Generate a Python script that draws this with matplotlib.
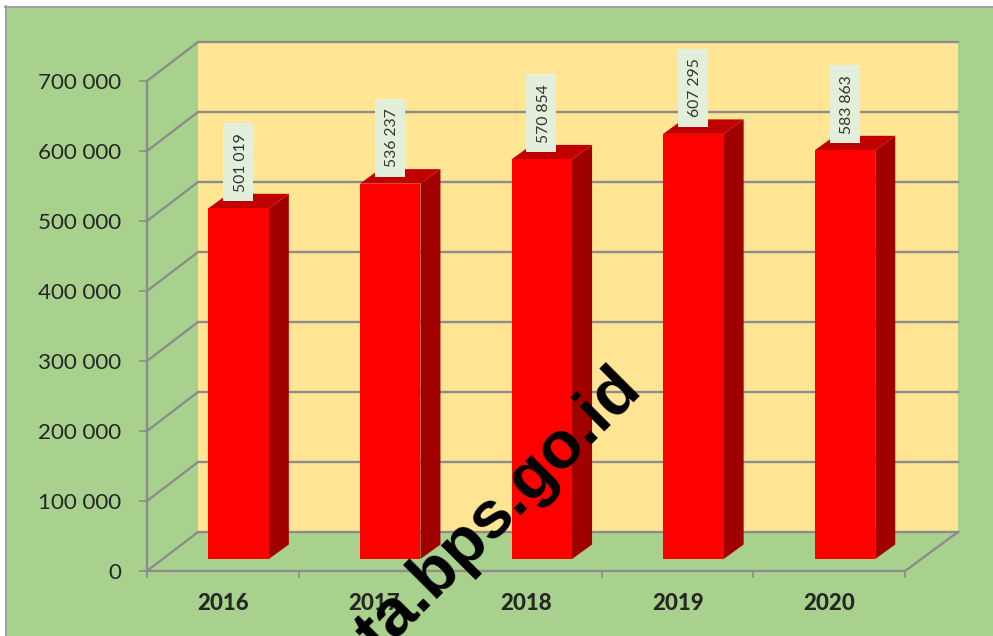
import matplotlib
matplotlib.use("Agg")
import matplotlib.pyplot as plt
from matplotlib.patches import Polygon, Rectangle
from matplotlib.lines import Line2D

years = ["2016", "2017", "2018", "2019", "2020"]
values = [501019, 536237, 570854, 607295, 583863]
labels = ["501 019", "536 237", "570 854", "607 295", "583 863"]
y_ticks = [0, 100000, 200000, 300000, 400000, 500000, 600000, 700000]
y_tick_labels = ["0", "100 000", "200 000", "300 000", "400 000", "500 000", "600 000", "700 000"]

W, H = 993, 636
BG = "#A9D18E"; WALL = "#FFE594"; GRID = "#8C8C8C"; TXT = "#262626"
plt.rcParams["font.family"] = ["Lato", "DejaVu Sans"]

fig = plt.figure(figsize=(W/100, H/100), dpi=100, facecolor="white")
# chart area: white margin at top and left, grey hairline on those two sides
fig.add_artist(Rectangle((5.5/W, 0), 1, 1-6.5/H, transform=fig.transFigure, fc=BG, ec="none", zorder=-5))
fig.add_artist(Line2D([5.5/W, 5.5/W], [0, 1-6/H], transform=fig.transFigure, color="#A0A0A0", lw=1.4, zorder=-4))
fig.add_artist(Line2D([5/W, 1], [1-6.5/H, 1-6.5/H], transform=fig.transFigure, color="#A0A0A0", lw=1.4, zorder=-4))

ax = fig.add_axes([147/W, 1-571/H, (905-147)/W, (571-81)/H])
ax.set_xlim(0, 5); ax.set_ylim(0, 700000)
ax.patch.set_alpha(0)
px = 5/(905-147); py = 700000/(571-81)   # data units per pixel

def P(x, y, dx=0, dy=0):
    return (x + dx*px, y + dy*py)

# back wall
DX, DY = 51, 39
ax.add_patch(Polygon([P(0,0,DX,DY), P(5,0,DX+2,DY), P(5,700000,DX+2,DY), P(0,700000,DX,DY)],
                     closed=True, fc=WALL, ec="none", clip_on=False, zorder=1))
# grid
for t in y_ticks:
    xs, ys = zip(P(0,t), P(0,t,DX,DY), P(5,t,DX+2,DY))
    ax.plot(xs, ys, color=GRID, lw=1.7, clip_on=False, zorder=2, solid_joinstyle="miter")
xs, ys = zip(P(5,0), P(5,0,DX+2,DY))
ax.plot(xs, ys, color=GRID, lw=1.7, clip_on=False, zorder=2)

# bars
BW = 60.5*px
for i, v in enumerate(values):
    cx = i + 0.5 + 15.8*px
    l, r = cx - BW/2, cx + BW/2
    o = (0, 12)          # front-face offset
    d = (20, 14.5)       # bar depth
    front = [P(l,0,*o), P(r,0,*o), P(r,v,*o), P(l,v,*o)]
    side = [P(r,0,*o), P(r,0,o[0]+d[0],o[1]+d[1]), P(r,v,o[0]+d[0],o[1]+d[1]), P(r,v,*o)]
    top = [P(l,v,*o), P(r,v,*o), P(r,v,o[0]+d[0],o[1]+d[1]), P(l,v,o[0]+d[0],o[1]+d[1])]
    ax.add_patch(Polygon(side, fc="#A00000", ec="none", clip_on=False, zorder=3))
    ax.add_patch(Polygon(top, fc="#C00000", ec="none", clip_on=False, zorder=3))
    ax.add_patch(Polygon(front, fc="#FF0000", ec="none", clip_on=False, zorder=4))
    # data label box + text
    bx, by = P(cx, v, -0.5, 12+7)
    ax.add_patch(Rectangle((bx-15*px, by), 30*px, 78*py, fc="#E2EFDA", ec="none", clip_on=False, zorder=5))
    tx, ty = P(bx, by, 2.5, 39)
    ax.text(tx, ty, labels[i], rotation=90, ha="center", va="center",
            fontsize=11.3, color="#333333", zorder=6, clip_on=False)

# axes
for s in ("top", "right"):
    ax.spines[s].set_visible(False)
for s in ("left", "bottom"):
    ax.spines[s].set_color(GRID); ax.spines[s].set_linewidth(1.7); ax.spines[s].set_zorder(2)
ax.set_yticks(y_ticks); ax.set_yticklabels(y_tick_labels)
ax.tick_params(axis="y", length=6, width=1.2, color=GRID, labelsize=16.1, labelcolor=TXT, pad=12.5)
ax.set_xticks(range(6)); ax.set_xticklabels([""]*6)
ax.set_xticks([i+0.5 for i in range(5)], minor=True)
ax.set_xticklabels(years, minor=True, fontsize=16, fontweight="black", color=TXT)
ax.tick_params(axis="x", which="major", length=5, width=1.2, color=GRID)
ax.tick_params(axis="x", which="minor", length=0, pad=16)

# watermark, cut by the lower picture edge as in the reference
fig.text(644/W, 1-392/H, "ta.bps.go.id", rotation=45, rotation_mode="anchor", ha="right", va="baseline",
         family="Liberation Sans", fontsize=48, fontweight="bold", color="black", zorder=20)

fig.savefig("out.png", dpi=100)
